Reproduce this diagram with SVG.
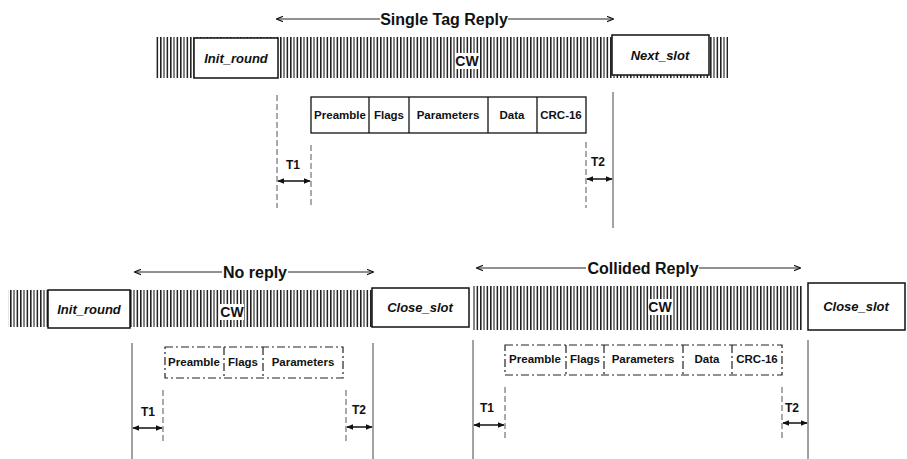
<svg xmlns="http://www.w3.org/2000/svg" width="907" height="459" viewBox="0 0 907 459">
<defs>
<pattern id="hatch" patternUnits="userSpaceOnUse" width="10" height="6">
<rect x="0" y="0" width="10" height="6" fill="#fff"/>
<rect x="0" y="0" width="1.6" height="6" fill="#222"/>
<rect x="3.4" y="0" width="1.2" height="6" fill="#333"/>
<rect x="6.6" y="0" width="1.5" height="6" fill="#222"/>
</pattern>
<marker id="ah" viewBox="0 0 10 10" refX="9" refY="5" markerWidth="7" markerHeight="7" orient="auto-start-reverse" markerUnits="userSpaceOnUse">
<path d="M0,1 L10,5 L0,9" fill="none" stroke="#111" stroke-width="1.5"/>
</marker>
<marker id="ahf" viewBox="0 0 10 10" refX="9" refY="5" markerWidth="7" markerHeight="7" orient="auto-start-reverse" markerUnits="userSpaceOnUse">
<path d="M0,1 L10,5 L0,9 Z" fill="#111"/>
</marker>
</defs>
<style>
.bar{fill:url(#hatch);}
.cwbg{fill:#fff;}
.box{fill:#fff;stroke:#111;stroke-width:1.5;}
.boxt{font-family:"Liberation Sans",Arial,sans-serif;font-weight:bold;font-style:italic;font-size:13px;fill:#111;text-anchor:middle;}
.cw{font-family:"Liberation Sans",Arial,sans-serif;font-weight:bold;font-size:14px;fill:#111;text-anchor:middle;}
.title{font-family:"Liberation Sans",Arial,sans-serif;font-weight:bold;font-size:16px;fill:#111;text-anchor:middle;}
.pk{fill:#fff;stroke:#111;stroke-width:1.3;}
.pkd{fill:#fff;stroke:#222;stroke-width:1.2;stroke-dasharray:8 3 2 3;}
.pt{font-family:"Liberation Sans",Arial,sans-serif;font-weight:bold;font-size:11.5px;fill:#111;text-anchor:middle;}
.tl{font-family:"Liberation Sans",Arial,sans-serif;font-weight:bold;font-size:12px;fill:#111;text-anchor:middle;}
.span{stroke:#222;stroke-width:1;fill:none;}
.tarr{stroke:#111;stroke-width:1.5;fill:none;}
.vl{stroke:#444;stroke-width:1;fill:none;}
.vd{stroke:#555;stroke-width:1;fill:none;stroke-dasharray:6 3;}
</style>

<g id="bar-top">
<rect class="bar" x="156" y="37" width="572" height="41"/>
<rect class="cwbg" x="455" y="53" width="24" height="16"/>
<text class="cw" x="467" y="66">CW</text>
</g>
<g id="init-round-top">
<rect class="box" x="194" y="38" width="84" height="40"/>
<text class="boxt" x="236" y="63">Init_round</text>
</g>
<g id="next-slot">
<rect class="box" x="612" y="35" width="97" height="40"/>
<text class="boxt" x="660" y="60">Next_slot</text>
</g>
<g id="label-single">
<text class="title" x="444" y="25">Single Tag Reply</text>
</g>
<g id="packet-top">
<rect class="pk" x="311" y="97" width="275" height="36"/>
<line class="pk" x1="369" y1="97" x2="369" y2="133"/>
<line class="pk" x1="409" y1="97" x2="409" y2="133"/>
<line class="pk" x1="488" y1="97" x2="488" y2="133"/>
<line class="pk" x1="537" y1="97" x2="537" y2="133"/>
<text class="pt" x="340" y="119">Preamble</text>
<text class="pt" x="389" y="119">Flags</text>
<text class="pt" x="448" y="119">Parameters</text>
<text class="pt" x="512" y="119">Data</text>
<text class="pt" x="561" y="119">CRC-16</text>
</g>
<g id="t1-top"><text class="tl" x="293" y="169">T1</text></g>
<g id="t2-top"><text class="tl" x="598" y="166">T2</text></g>

<g id="bar-left">
<rect class="bar" x="8" y="290" width="364" height="37"/>
<rect class="cwbg" x="220" y="304" width="24" height="16"/>
<text class="cw" x="232" y="317">CW</text>
</g>
<g id="init-round-left">
<rect class="box" x="48" y="290" width="82" height="38"/>
<text class="boxt" x="89" y="314">Init_round</text>
</g>
<g id="close-slot-left">
<rect class="box" x="372" y="288" width="97" height="39"/>
<text class="boxt" x="420" y="312">Close_slot</text>
</g>
<g id="label-noreply">
<text class="title" x="255" y="278">No reply</text>
</g>
<g id="packet-left">
<rect class="pkd" x="165" y="347" width="178" height="31"/>
<line class="pkd" x1="224" y1="347" x2="224" y2="378"/>
<line class="pkd" x1="263" y1="347" x2="263" y2="378"/>
<text class="pt" x="194" y="366">Preamble</text>
<text class="pt" x="243" y="366">Flags</text>
<text class="pt" x="303" y="366">Parameters</text>
</g>
<g id="t1-left"><text class="tl" x="148" y="416">T1</text></g>
<g id="t2-left"><text class="tl" x="359" y="414">T2</text></g>

<g id="bar-right">
<rect class="bar" x="473" y="286" width="330" height="44"/>
<rect class="cwbg" x="648" y="299" width="24" height="16"/>
<text class="cw" x="660" y="312">CW</text>
</g>
<g id="close-slot-right">
<rect class="box" x="808" y="283" width="97" height="47"/>
<text class="boxt" x="856" y="311">Close_slot</text>
</g>
<g id="label-collided">
<text class="title" x="643" y="274">Collided Reply</text>
</g>
<g id="packet-right">
<rect class="pkd" x="505" y="345" width="277" height="30"/>
<line class="pkd" x1="566" y1="345" x2="566" y2="375"/>
<line class="pkd" x1="604" y1="345" x2="604" y2="375"/>
<line class="pkd" x1="683" y1="345" x2="683" y2="375"/>
<line class="pkd" x1="732" y1="345" x2="732" y2="375"/>
<text class="pt" x="535" y="363">Preamble</text>
<text class="pt" x="585" y="363">Flags</text>
<text class="pt" x="643" y="363">Parameters</text>
<text class="pt" x="707" y="363">Data</text>
<text class="pt" x="757" y="363">CRC-16</text>
</g>
<g id="t1-right"><text class="tl" x="487" y="412">T1</text></g>
<g id="t2-right"><text class="tl" x="792" y="412">T2</text></g>

<g id="connectors">
<line class="span" x1="277" y1="19" x2="380" y2="19" marker-start="url(#ah)"/>
<line class="span" x1="508" y1="19" x2="613" y2="19" marker-end="url(#ah)"/>
<line class="span" x1="135" y1="272" x2="222" y2="272" marker-start="url(#ah)"/>
<line class="span" x1="288" y1="272" x2="373" y2="272" marker-end="url(#ah)"/>
<line class="span" x1="477" y1="268" x2="586" y2="268" marker-start="url(#ah)"/>
<line class="span" x1="699" y1="268" x2="800" y2="268" marker-end="url(#ah)"/>

<line class="vd" x1="277" y1="95" x2="277" y2="208"/>
<line class="vd" x1="311" y1="145" x2="311" y2="208"/>
<line class="vd" x1="586" y1="142" x2="586" y2="208"/>
<line class="vl" x1="613" y1="92" x2="613" y2="228"/>
<line class="tarr" x1="278" y1="181" x2="310" y2="181" marker-start="url(#ahf)" marker-end="url(#ahf)"/>
<line class="tarr" x1="587" y1="179" x2="612" y2="179" marker-start="url(#ahf)" marker-end="url(#ahf)"/>

<line class="vl" x1="132" y1="343" x2="132" y2="459"/>
<line class="vd" x1="163" y1="390" x2="163" y2="442"/>
<line class="vd" x1="346" y1="390" x2="346" y2="442"/>
<line class="vl" x1="373" y1="343" x2="373" y2="459"/>
<line class="tarr" x1="133" y1="428" x2="162" y2="428" marker-start="url(#ahf)" marker-end="url(#ahf)"/>
<line class="tarr" x1="347" y1="427" x2="372" y2="427" marker-start="url(#ahf)" marker-end="url(#ahf)"/>

<line class="vl" x1="473" y1="340" x2="473" y2="459"/>
<line class="vd" x1="505" y1="387" x2="505" y2="438"/>
<line class="vd" x1="782" y1="387" x2="782" y2="438"/>
<line class="vl" x1="808" y1="340" x2="808" y2="459"/>
<line class="tarr" x1="474" y1="425" x2="504" y2="425" marker-start="url(#ahf)" marker-end="url(#ahf)"/>
<line class="tarr" x1="783" y1="423" x2="807" y2="423" marker-start="url(#ahf)" marker-end="url(#ahf)"/>
</g>
</svg>
